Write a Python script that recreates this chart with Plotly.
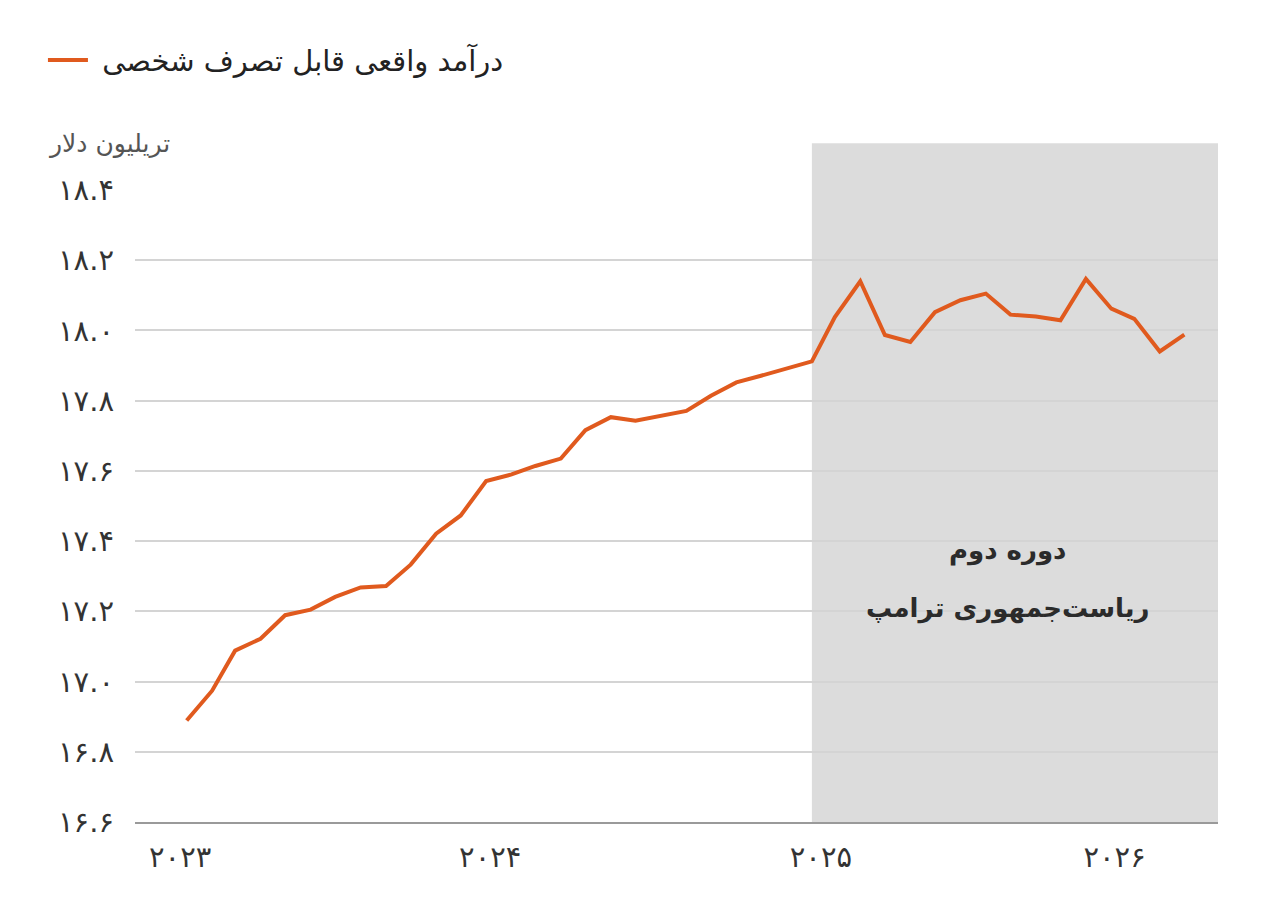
import plotly.graph_objects as go
import pandas as pd

# Monthly data, Jan 2023 – May 2026 (trillion dollars)
months = pd.date_range("2023-01-01", "2026-05-01", freq="MS")
income = [16.889, 16.974, 17.088, 17.122, 17.189, 17.205, 17.241, 17.268, 17.272, 17.333,
          17.421, 17.473, 17.571, 17.590, 17.614, 17.635, 17.716, 17.753, 17.743, 17.757,
          17.771, 17.814, 17.852, 17.871, 17.891, 17.912, 18.038, 18.140, 17.987, 17.967,
          18.052, 18.086, 18.105, 18.045, 18.040, 18.029, 18.147, 18.062, 18.033, 17.940,
          17.988]

series_name = "درآمد واقعی قابل تصرف شخصی"
y_unit = "تریلیون دلار"
period_line1 = "دوره دوم"
period_line2 = "ریاست‌جمهوری ترامپ"
period_start = "2025-02-01"

y_tickvals = [16.6, 16.8, 17.0, 17.2, 17.4, 17.6, 17.8, 18.0, 18.2, 18.4]
y_ticktext = ["۱۶.۶", "۱۶.۸", "۱۷.۰", "۱۷.۲", "۱۷.۴", "۱۷.۶", "۱۷.۸", "۱۸.۰", "۱۸.۲", "۱۸.۴"]
x_tickvals = ["2022-12-24", "2024-01-06", "2025-02-12", "2026-02-05"]
x_ticktext = ["۲۰۲۳", "۲۰۲۴", "۲۰۲۵", "۲۰۲۶"]

FONT = "'DejaVu Sans', 'Noto Sans', sans-serif"

fig = go.Figure()
fig.add_trace(go.Scatter(
    x=months, y=income, mode="lines", name="\u00a0" + series_name,
    line=dict(color="#E05A1E", width=4),
))

fig.add_shape(type="rect", xref="x", yref="paper",
              x0=period_start, x1="2026-06-11", y0=0, y1=1.074,
              fillcolor="#dcdcdc", line=dict(width=0), layer="below")

for txt, yp in [(period_line1, 0.430), (period_line2, 0.3386)]:
    fig.add_annotation(text=txt, xref="paper", yref="paper",
                       x=0.806, y=yp, xanchor="center", yanchor="middle", showarrow=False,
                       font=dict(size=26, color="#2b2b2b", family=FONT, weight="bold"))

fig.add_annotation(text=y_unit, xref="paper", yref="paper",
                   x=0.034, y=1.074, xanchor="right", yanchor="middle",
                   showarrow=False, font=dict(size=25, color="#555555", family=FONT))

fig.update_layout(
    width=1280, height=903,
    margin=dict(l=135, r=62, t=190, b=81),
    paper_bgcolor="white", plot_bgcolor="white",
    font=dict(family=FONT, color="#333333"),
    showlegend=True,
    legend=dict(x=-0.085, y=1.246, xanchor="left", yanchor="top",
                font=dict(size=29, color="#222222", family=FONT),
                bgcolor="rgba(0,0,0,0)", itemwidth=40),
    xaxis=dict(range=["2022-10-30", "2026-06-11"], tickvals=x_tickvals, ticktext=x_ticktext,
               showgrid=False, showline=True, linecolor="#9a9a9a", linewidth=2,
               ticks="", ticklabelstandoff=8,
               tickfont=dict(size=29, color="#333333")),
    yaxis=dict(range=[16.6, 18.4], tickvals=y_tickvals, ticktext=y_ticktext,
               showgrid=True, gridcolor="#d4d4d4", gridwidth=2, zeroline=False,
               ticks="", ticklabelstandoff=20,
               tickfont=dict(size=29, color="#333333")),
)

fig.write_html("out.html")
